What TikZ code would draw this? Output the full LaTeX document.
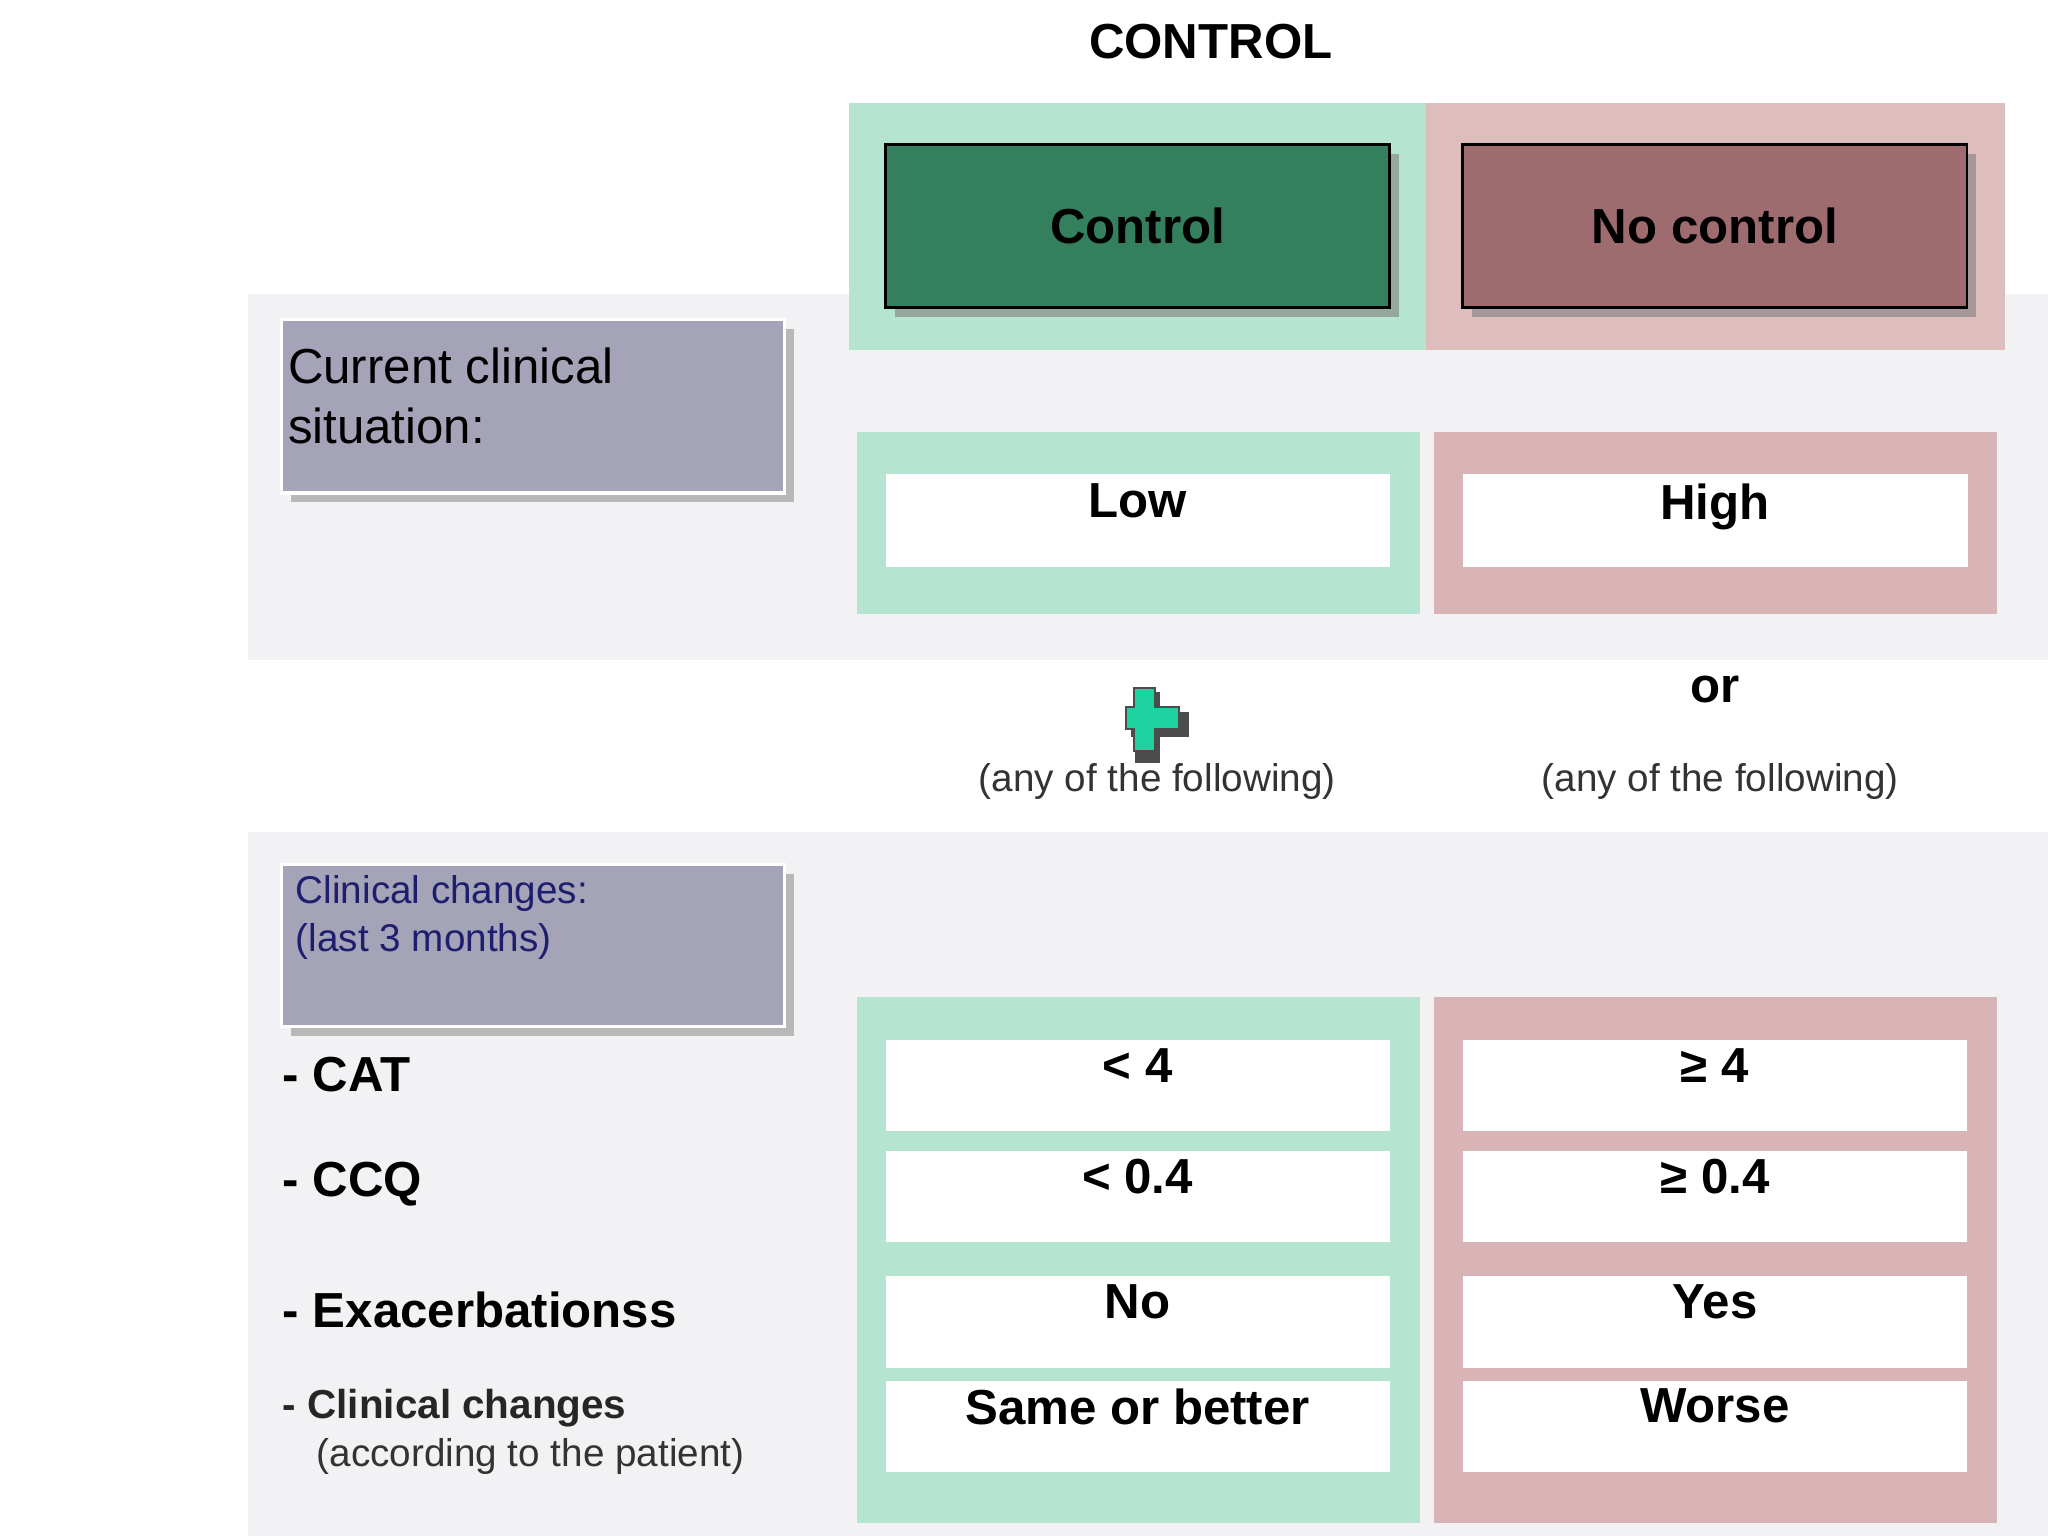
\documentclass[tikz,border=0pt]{standalone}
\usepackage{fontspec}
\setmainfont{Liberation Sans}
\usetikzlibrary{shadows}
\definecolor{band}{HTML}{F2F2F4}
\definecolor{greenpanel}{HTML}{B5E5D0}
\definecolor{redpanel}{HTML}{DEBDBD}
\definecolor{redpanelb}{HTML}{D8B4B6}
\definecolor{greenbox}{HTML}{347F5E}
\definecolor{redbox}{HTML}{9E6B6E}
\definecolor{graybox}{HTML}{A5A3B8}
\definecolor{plusgreen}{HTML}{1DD3A0}
\definecolor{navytext}{HTML}{1E1E6E}
\tikzset{
  head/.style={draw=black,thick,drop shadow={opacity=0.6},font=\fontsize{14}{16}\selectfont\bfseries},
  label box/.style={draw=white,line width=1pt,fill=graybox,drop shadow={opacity=0.5}},
  cell/.style={fill=white,anchor=north,font=\fontsize{14}{16}\selectfont\bfseries,inner sep=0pt},
  row/.style={anchor=west,font=\fontsize{14}{16}\selectfont\bfseries},
}
\begin{document}
\begin{tikzpicture}[x=0.01306cm,y=-0.01306cm]
\useasboundingbox (0,0) rectangle (1568,1176);

% background bands
\fill[band] (190,225) rectangle (1568,505);
\fill[band] (190,637) rectangle (1568,1176);

\node[font=\fontsize{14}{16}\selectfont\bfseries] (title) at (927,32) {CONTROL};

% header panels
\fill[greenpanel] (650,79) rectangle (1092,268);
\fill[redpanel] (1092,79) rectangle (1535,268);
\node[head,fill=greenbox,minimum width=386*0.01306cm,minimum height=125*0.01306cm] (ctrl) at (871,173) {Control};
\node[head,fill=redbox,minimum width=386*0.01306cm,minimum height=125*0.01306cm] (noctrl) at (1313,173) {No control};

% current clinical situation
\node[label box,minimum width=385*0.01306cm,minimum height=133*0.01306cm] (cur) at (408,311) {};
\node[anchor=north west,align=left,font=\fontsize{14}{17}\selectfont,inner sep=0pt] (curtxt) at (220,266) {Current clinical\\situation:};
\fill[greenpanel] (656,331) rectangle (1087,470);
\fill[redpanelb] (1098,331) rectangle (1529,470);
\fill[white] (678,363) rectangle (1064,434);
\fill[white] (1120,363) rectangle (1507,434);
\node[cell] (low) at (871,370) {Low};
\node[cell] (high) at (1313,370) {High};

% plus / or
\fill[black!70] (869,530) rectangle (888,584);
\fill[black!70] (866,545) rectangle (910,564);
\fill[plusgreen,draw=black!70,line width=0.6pt] (868,527)--(884,527)--(884,541)--(903,541)--(903,558)--(884,558)--(884,575)--(868,575)--(868,558)--(862,558)--(862,541)--(868,541)--cycle;
\node[font=\fontsize{14}{16}\selectfont\bfseries] (or) at (1313,528) {or};
\node[font=\fontsize{11}{13}\selectfont,text=black!80] (anyl) at (886,598) {(any of the following)};
\node[font=\fontsize{11}{13}\selectfont,text=black!80] (anyr) at (1317,598) {(any of the following)};

% clinical changes
\node[label box,minimum width=385*0.01306cm,minimum height=124*0.01306cm] (chg) at (408,724) {};
\node[anchor=north west,align=left,font=\fontsize{11}{13.5}\selectfont,text=navytext,inner sep=0pt] (chgtxt) at (226,670) {Clinical changes:\\(last 3 months)};
\fill[greenpanel] (656,763) rectangle (1087,1166);
\fill[redpanelb] (1098,763) rectangle (1529,1166);
\foreach \t/\b in {796/866,881/951,977/1047,1057/1127}{
  \fill[white] (678,\t) rectangle (1064,\b);
  \fill[white] (1120,\t) rectangle (1506,\b);
}
\node[cell] (catl) at (871,802) {< 4};
\node[cell] (catr) at (1313,802) {≥ 4};
\node[cell] (ccql) at (871,887) {< 0.4};
\node[cell] (ccqr) at (1313,887) {≥ 0.4};
\node[cell] (exl) at (871,983) {No};
\node[cell] (exr) at (1313,983) {Yes};
\node[cell] (cll) at (871,1063) {Same or better};
\node[cell] (clr) at (1313,1063) {Worse};

\node[row,inner sep=0pt] (cat) at (216,823) {- CAT};
\node[row,inner sep=0pt] (ccq) at (216,907) {- CCQ};
\node[row,inner sep=0pt] (exa) at (216,1003) {- Exacerbationss};
\node[anchor=west,inner sep=0pt,font=\fontsize{11.5}{14}\selectfont\bfseries,text=black!85] (cli) at (216,1078) {- Clinical changes};
\node[anchor=west,inner sep=0pt,font=\fontsize{11}{13}\selectfont,text=black!80] (acc) at (242,1115) {(according to the patient)};
\end{tikzpicture}
\end{document}
